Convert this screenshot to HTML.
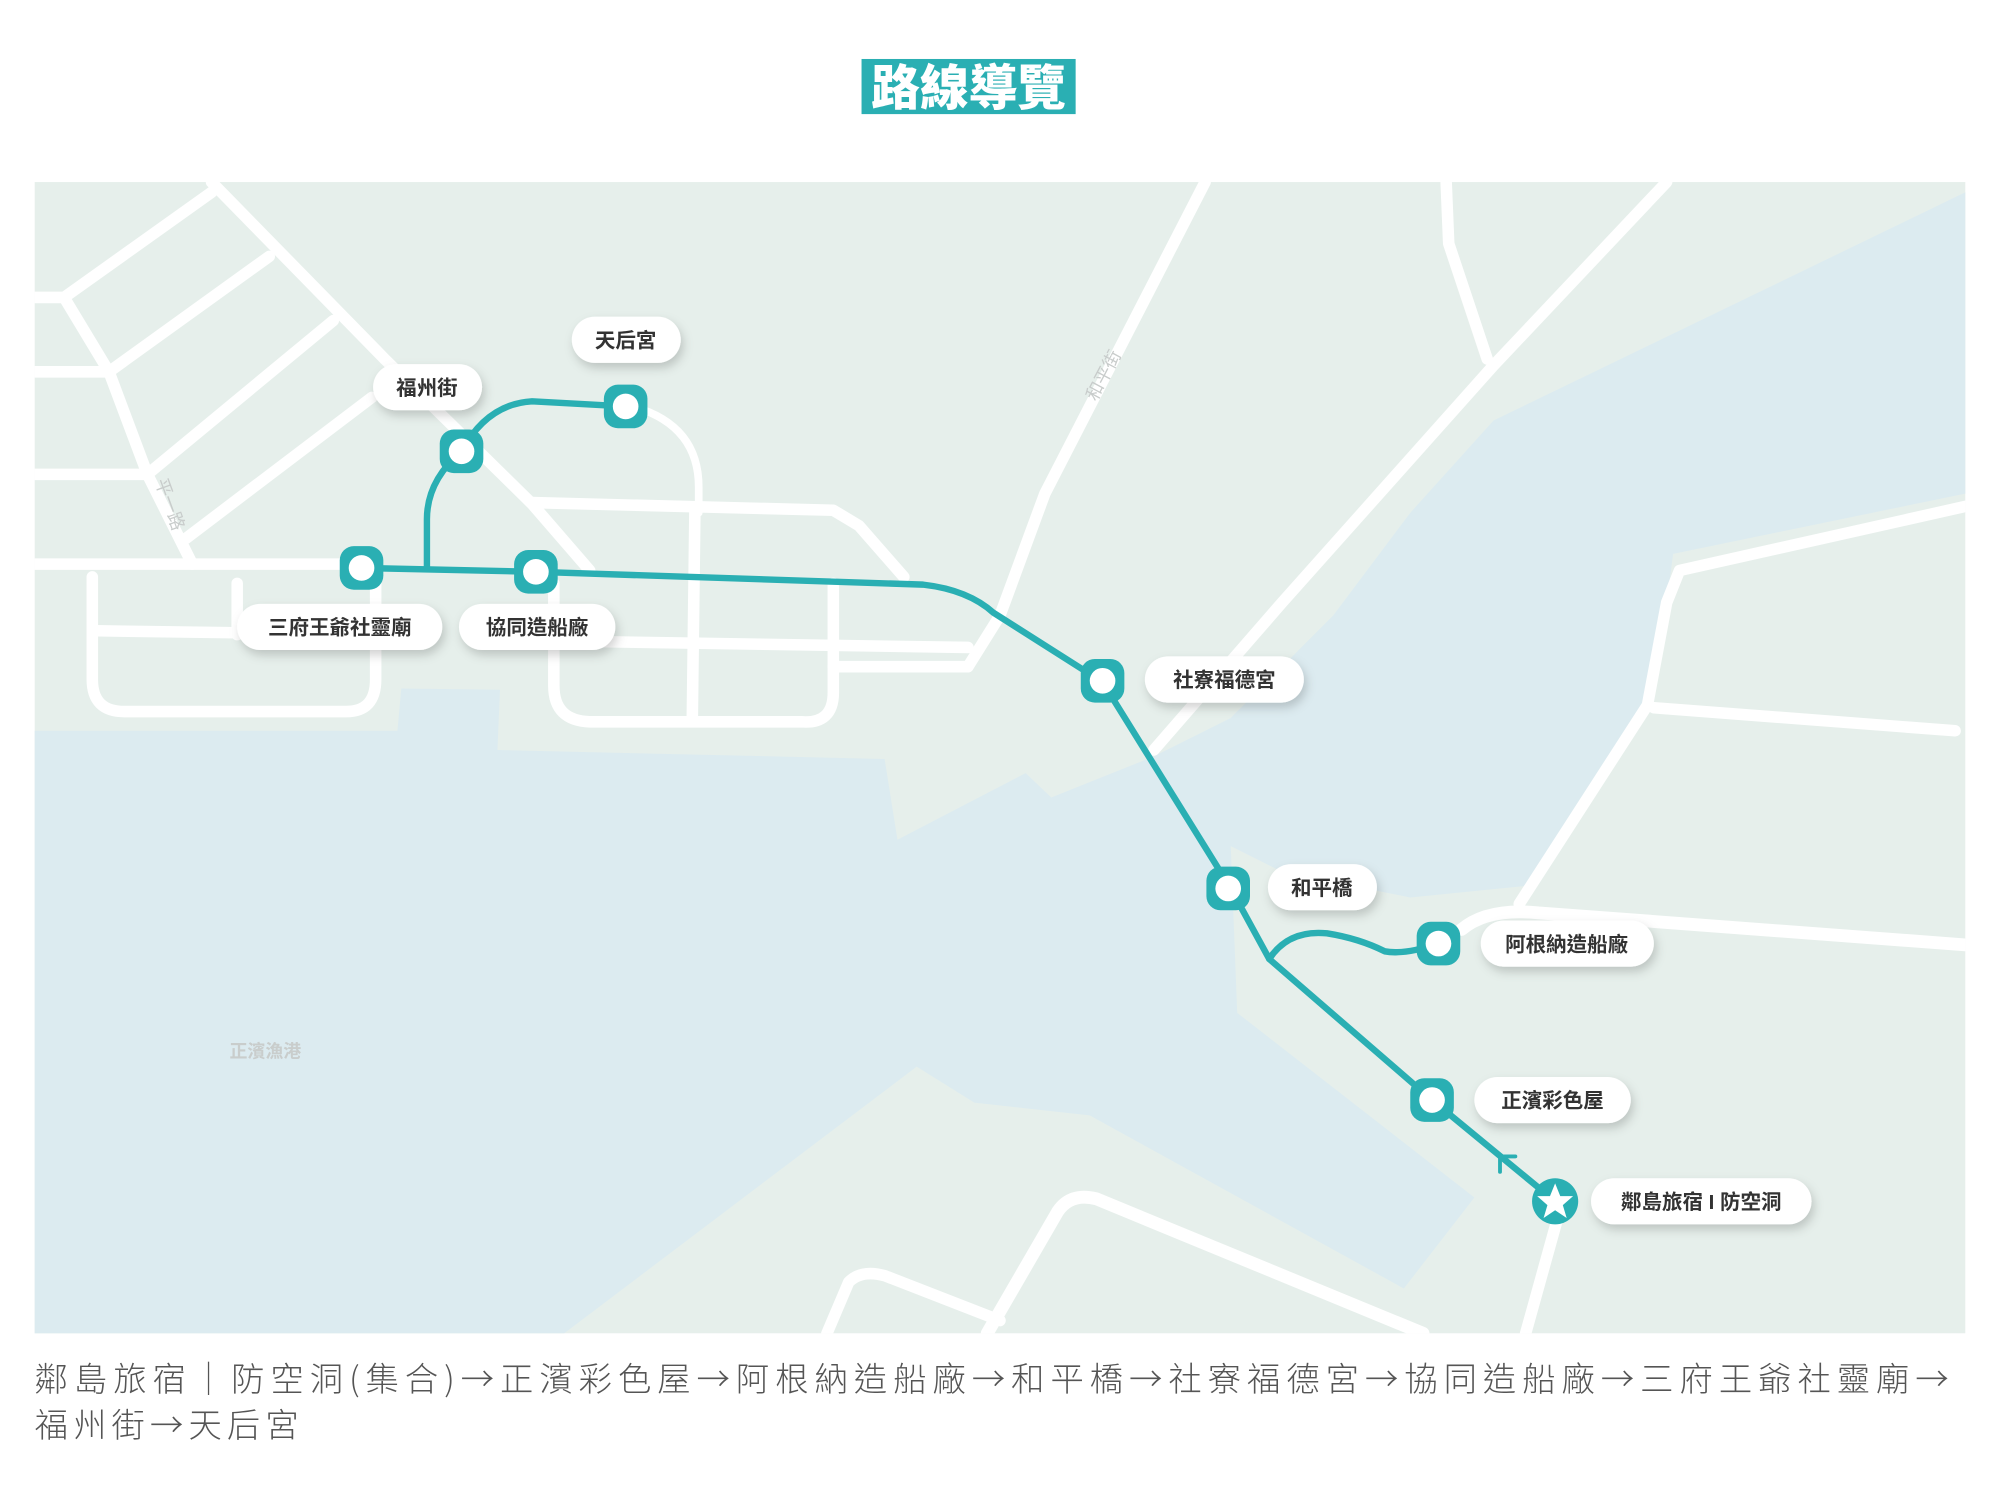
<!DOCTYPE html>
<html><head><meta charset="utf-8"><style>
html,body{margin:0;padding:0;background:#fff}
svg{display:block}
.lb{font-family:"Liberation Sans","Noto Sans CJK TC",sans-serif;font-weight:bold;font-size:16px;fill:#333}
</style></head><body>
<svg width="2000" height="1509" viewBox="0 0 1560 1177" preserveAspectRatio="none" xmlns="http://www.w3.org/2000/svg">
<defs>
<filter id="sh" x="-30%" y="-50%" width="160%" height="200%"><feDropShadow dx="2" dy="4" stdDeviation="4" flood-color="#000" flood-opacity="0.18"/></filter>
<clipPath id="mc"><rect x="27" y="142" width="1506" height="898"/></clipPath>
</defs>
<rect width="1560" height="1177" fill="#fff"/>
<rect x="672" y="46" width="167" height="43" fill="#2aafb3"/>
<text x="755.5" y="82" text-anchor="middle" font-family="Liberation Sans,Noto Sans CJK TC,sans-serif" font-weight="900" font-size="38" fill="#fff">路線導覽</text>
<g clip-path="url(#mc)">
<rect x="27" y="142" width="1506" height="898" fill="#e6efeb"/>
<polygon fill="#dcebf0" points="27,570 310,570 313,537 390,538 388,585 690,592 700,655 800,603 820,622 900,590 960,560 1040,480 1100,400 1165,328 1533,150 1533,385 1305,432 1290,548 1200,690 1100,700 1000,680 960,660 965,790 1150,934 1095,1005 850,870 760,860 715,832 440,1040 27,1040"/>
<g fill="none" stroke="#fff" stroke-width="9" stroke-linecap="round" stroke-linejoin="round">
<polyline points="165,142 300,280 415,393 460,445"/>
<polyline points="415,392 650,398 670,410 705,450"/>
<polyline points="27,232 50,232 165,150"/>
<polyline points="50,232 85,290 115,370 150,440"/>
<line x1="85" y1="290" x2="210" y2="200"/>
<line x1="115" y1="370" x2="260" y2="250"/>
<line x1="145" y1="420" x2="290" y2="310"/>
<line x1="27" y1="290" x2="85" y2="290"/>
<line x1="27" y1="370" x2="115" y2="370"/>
<polyline points="27,440 150,440 265,440"/>
<path d="M72,450 V530 Q72,555 97,555 H270 Q293,555 293,530 V450"/>
<line x1="75" y1="492" x2="290" y2="495"/>
<line x1="185" y1="455" x2="185" y2="495"/>
<path d="M432,455 V535 Q432,562 460,563 H625 Q650,565 650,540 V455"/>
<line x1="542" y1="400" x2="540" y2="560"/>
<line x1="435" y1="500" x2="755" y2="505"/>
<line x1="650" y1="520" x2="755" y2="520"/>
<polyline points="940,142 815,385 780,480 755,520"/>
<polyline points="1128,142 1130,190 1160,280"/>
<polyline points="1300,142 1165,285 1000,470 900,585"/>
<polyline points="1533,395 1310,445 1300,470 1285,550 1185,705"/>
<line x1="1290" y1="552" x2="1525" y2="570"/>
<path d="M1140,725 Q1160,708 1200,712 L1533,737" stroke-width="10"/>
<polyline points="1215,950 1190,1040"/>
<path d="M770,1040 L825,945 Q835,930 855,935 L1110,1040" stroke-width="10"/>
<path d="M645,1040 L662,1000 Q672,990 690,995 L780,1030"/>
<path d="M490,316 Q545,330 545,380 V400" stroke-width="6"/>
</g>
<g font-family="Liberation Sans,Noto Sans CJK TC,sans-serif" font-size="14" fill="#c8cccb">
<text transform="translate(865,295) rotate(-62)" text-anchor="middle">和平街</text>
<text transform="translate(128,395) rotate(70)" text-anchor="middle">平一路</text>
<text x="207" y="825" text-anchor="middle" fill="#c9cdcc" font-weight="bold">正濱漁港</text>
</g>
</g>
<g fill="none" stroke="#2aafb3" stroke-width="5" stroke-linecap="round" stroke-linejoin="round">
<path d="M283,443 L418,446 L720,456 Q755,460 775,478 L860,532 L960,693 L990,748 L1117,858 L1213,937"/>
<path d="M333,443 V405 Q333,375 360,352 Q380,315 415,313 L488,317"/>
<path d="M990,748 Q1005,725 1035,728 Q1060,732 1080,742 Q1095,745 1122,736"/>
<path d="M1170,914 L1170,902 L1182,902" stroke-width="3"/>
</g>
<g>
<g fill="#2aafb3">
<rect x="265" y="426" width="34" height="34" rx="11"/>
<rect x="401" y="429" width="34" height="34" rx="11"/>
<rect x="343" y="335" width="34" height="34" rx="11"/>
<rect x="471" y="300" width="34" height="34" rx="11"/>
<rect x="843" y="514" width="34" height="34" rx="11"/>
<rect x="941" y="676" width="34" height="34" rx="11"/>
<rect x="1105" y="719" width="34" height="34" rx="11"/>
<rect x="1100" y="841" width="34" height="34" rx="11"/>
<circle cx="1213" cy="937" r="18"/>
</g>
<g fill="#fff">
<circle cx="282" cy="443" r="10"/><circle cx="418" cy="446" r="10"/><circle cx="360" cy="352" r="10"/><circle cx="488" cy="317" r="10"/><circle cx="860" cy="531" r="10"/><circle cx="958" cy="693" r="10"/><circle cx="1122" cy="736" r="10"/><circle cx="1117" cy="858" r="10"/>
<polygon points="1213,923 1217,933 1227,933 1219,940 1222,950 1213,944 1204,950 1207,940 1199,933 1209,933"/>
</g>
</g>
<g filter="url(#sh)" fill="#fff">
<rect x="446" y="247" width="85" height="36" rx="18"/>
<rect x="291" y="284" width="85" height="36" rx="18"/>
<rect x="185" y="471" width="160" height="36" rx="18"/>
<rect x="358" y="471" width="122" height="36" rx="18"/>
<rect x="893" y="512" width="124" height="36" rx="18"/>
<rect x="989" y="674" width="85" height="36" rx="18"/>
<rect x="1155" y="718" width="135" height="36" rx="18"/>
<rect x="1150" y="840" width="122" height="36" rx="18"/>
<rect x="1241" y="919" width="172" height="36" rx="18"/>
</g>
<g class="lb" text-anchor="middle">
<text x="488" y="271" class="lb">天后宮</text>
<text x="333" y="308" class="lb">福州街</text>
<text x="265" y="495" class="lb">三府王爺社靈廟</text>
<text x="419" y="495" class="lb">協同造船廠</text>
<text x="955" y="536" class="lb">社寮福德宮</text>
<text x="1031" y="698" class="lb">和平橋</text>
<text x="1222" y="742" class="lb">阿根納造船廠</text>
<text x="1211" y="864" class="lb">正濱彩色屋</text>
<text x="1327" y="943" class="lb">鄰島旅宿 I 防空洞</text>
</g>
<g font-family="Noto Sans CJK TC,Liberation Sans,sans-serif" font-size="26" font-weight="300" fill="#555">
<text x="27" y="1085" textLength="1493" lengthAdjust="spacing">鄰島旅宿｜防空洞(集合)→正濱彩色屋→阿根納造船廠→和平橋→社寮福德宮→協同造船廠→三府王爺社靈廟→</text>
<text x="27" y="1121" textLength="206" lengthAdjust="spacing">福州街→天后宮</text>
</g>
</svg>
</body></html>
